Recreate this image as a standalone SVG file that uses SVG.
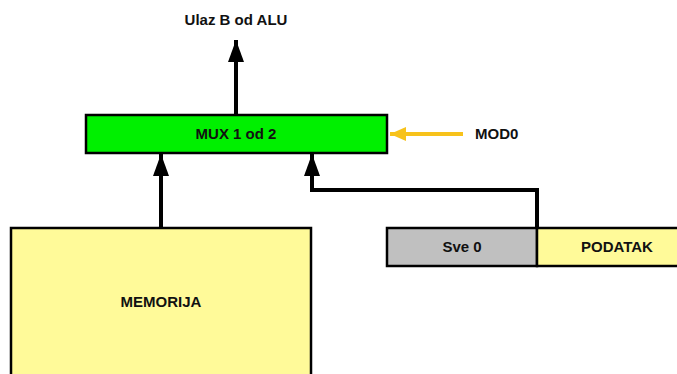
<svg xmlns="http://www.w3.org/2000/svg" width="677" height="374" viewBox="0 0 677 374">
<defs>
<style>
.box{stroke:#000;stroke-width:2.5}
.lbl{font-family:"Liberation Sans",Arial,sans-serif;font-weight:bold;font-size:15px;fill:#111;text-anchor:middle}
.wire{fill:none;stroke:#000;stroke-width:4}
</style>
<marker id="ah" markerUnits="userSpaceOnUse" viewBox="0 0 22 16" refX="22" refY="8" markerWidth="22" markerHeight="16" orient="auto">
<path d="M0,0 L22,8 L0,16 Z" fill="#000"/>
</marker>
<marker id="ahy" markerUnits="userSpaceOnUse" viewBox="0 0 16 14" refX="16" refY="7" markerWidth="16" markerHeight="14" orient="auto">
<path d="M0,0 L16,7 L0,14 Z" fill="#F7C21B"/>
</marker>
</defs>
<rect width="677" height="374" fill="#fff"/>
<g id="connectors">
<line class="wire" x1="236" y1="114" x2="236" y2="40" marker-end="url(#ah)"/>
<line class="wire" x1="161" y1="228" x2="161" y2="154" marker-end="url(#ah)"/>
<polyline class="wire" points="537,228 537,190 312,190 312,154" marker-end="url(#ah)"/>
<line x1="463" y1="134" x2="390" y2="134" stroke="#F7C21B" stroke-width="4" marker-end="url(#ahy)"/>
</g>
<g id="ulaz"><text class="lbl" x="236" y="25">Ulaz B od ALU</text></g>
<g id="mux">
<rect class="box" x="86" y="115" width="301" height="38" fill="#00F000"/>
<text class="lbl" x="236" y="139">MUX 1 od 2</text>
</g>
<g id="mod0"><text class="lbl" x="475" y="139" style="text-anchor:start">MOD0</text></g>
<g id="memorija">
<rect class="box" x="11" y="228" width="300" height="160" fill="#FFFA99"/>
<text class="lbl" x="161" y="307">MEMORIJA</text>
</g>
<g id="sve0">
<rect class="box" x="387" y="228" width="150" height="38" fill="#C0C0C0"/>
<text class="lbl" x="462" y="252">Sve 0</text>
</g>
<g id="podatak">
<rect class="box" x="537" y="228" width="160" height="38" fill="#FFFA99"/>
<text class="lbl" x="617" y="252">PODATAK</text>
</g>
</svg>
